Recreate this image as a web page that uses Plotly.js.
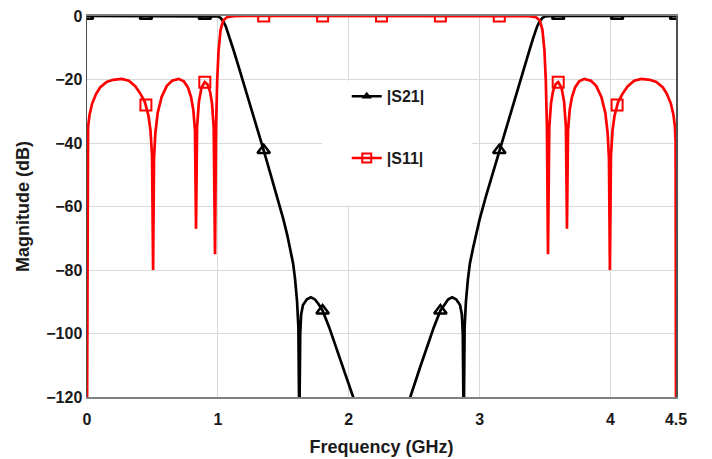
<!DOCTYPE html>
<html><head><meta charset="utf-8">
<script src="https://cdn.plot.ly/plotly-3.0.1.min.js"></script>
<style>html,body{margin:0;padding:0;background:#fff}</style>
</head><body><div id="chart" style="width:712px;height:459px"></div>
<script>
// |S11| curve (GHz, dB)
const s11Freq = [0,0.003,0.008,0.02,0.04,0.07,0.1,0.15,0.2,0.265,0.32,0.37,0.41,0.443,0.47,0.485,0.497,0.505,0.512,0.522,0.54,0.57,0.61,0.65,0.7,0.74,0.77,0.795,0.812,0.825,0.833,0.841,0.855,0.875,0.9,0.92,0.94,0.955,0.968,0.978,0.986,0.995,1.005,1.02,1.04,1.07,1.12,1.2,1.6,2.25,
  2.9,3.3,3.38,3.43,3.46,3.48,3.495,3.505,3.514,3.522,3.532,3.545,3.56,3.58,3.6,3.625,3.645,3.659,3.667,3.675,3.688,3.705,3.73,3.76,3.8,3.85,3.89,3.93,3.96,3.978,3.988,3.995,4.003,4.015,4.03,4.057,4.09,4.13,4.18,4.235,4.3,4.35,4.4,4.43,4.46,4.48,4.492,4.497,4.5];
const s11Mag = [-130,-40,-35,-31,-27.5,-24.5,-22.5,-20.8,-20.1,-19.8,-20.4,-22.2,-24.6,-27.2,-31.5,-36,-44,-80,-45,-37,-30.5,-25.5,-22,-20.4,-19.8,-20.6,-22.4,-25.5,-29.5,-36,-67,-35,-27,-22.5,-20.8,-21.5,-23.8,-27.5,-35,-75,-35,-20,-11,-4.5,-1.4,-0.4,-0.05,0,0,0,
  0,0,-0.05,-0.4,-1.4,-4.5,-11,-20,-35,-75,-35,-27.5,-23.8,-21.5,-20.8,-22.5,-27,-35,-67,-36,-29.5,-25.5,-22.4,-20.6,-19.8,-20.4,-22,-25.5,-30.5,-37,-45,-80,-44,-36,-31.5,-27.2,-24.6,-22.2,-20.4,-19.8,-20.1,-20.8,-22.5,-24.5,-27.5,-31,-35,-40,-130];

// |S21| curve (GHz, dB)
const s21Freq = [0,0.95,1.0,1.02,1.04,1.06,1.09,1.12,1.16,1.2,1.25,1.3,1.35,1.4,1.45,1.5,1.53,1.55,1.575,1.59,1.605,1.615,1.622,1.629,1.636,1.65,1.68,1.71,1.74,1.77,1.8,1.85,1.9,1.95,2.0,2.03,2.1,2.25,
  2.4,2.47,2.5,2.55,2.6,2.65,2.7,2.73,2.76,2.79,2.82,2.85,2.864,2.871,2.878,2.885,2.895,2.91,2.925,2.95,2.97,3.0,3.05,3.1,3.15,3.2,3.25,3.3,3.34,3.38,3.41,3.44,3.46,3.48,3.5,3.55,4.5];
const s21Mag = [0,0,-0.1,-0.6,-1.6,-3.2,-6.8,-10.8,-16.2,-21.6,-28.5,-35.5,-42.3,-49.5,-56.5,-64,-69,-73,-78,-83,-90,-98,-130,-100,-94,-91,-89.2,-88.6,-89.2,-90.8,-92.8,-98,-104,-110,-116,-120,-128,-135,
  -128,-120,-116,-110,-104,-98,-92.8,-90.8,-89.2,-88.6,-89.2,-91,-94,-100,-130,-98,-90,-83,-78,-73,-69,-64,-56.5,-49.5,-42.3,-35.5,-28.5,-21.6,-16.2,-10.8,-6.8,-3.2,-1.6,-0.6,-0.1,0,0];

// marker positions
const markerFreq = [0,0.45,0.9,1.35,1.8,2.25,2.7,3.15,3.6,4.05,4.5];
const s21MarkerMag = [0,0,0,-42.3,-92.8,-135,-92.8,-42.3,0,0,0];
const s11MarkerMag = [-130,-28,-20.9,0,0,0,0,0,-20.9,-28,-130];

const xTicks = [0,1,2,3,4,4.5];
const xTickText = ['0','1','2','3','4','4.5'];
const yTicks = [0,-20,-40,-60,-80,-100,-120];

const FONT = '"Liberation Sans", Arial, Helvetica, sans-serif';
const RED = '#ff0000';

const data = [
  {x:[null], y:[null], mode:'lines+markers', name:'|S21|', legendgroup:'a',
   line:{color:'#000', width:2.5}, marker:{symbol:'triangle-up', size:9, color:'#000'}},
  {x:[null], y:[null], mode:'lines+markers', name:'|S11|', legendgroup:'b',
   line:{color:RED, width:2.5}, marker:{symbol:'square-open', size:9, color:RED, line:{width:2, color:RED}}},
  {x:s21Freq, y:s21Mag, mode:'lines', showlegend:false, line:{color:'#000', width:2.7}},
  {x:markerFreq, y:s21MarkerMag, mode:'markers', showlegend:false,
   marker:{symbol:'triangle-up-open', size:11, color:'#000', line:{width:2.5, color:'#000'}}},
  {x:s11Freq, y:s11Mag, mode:'lines', showlegend:false, line:{color:RED, width:2.7}},
  {x:markerFreq, y:s11MarkerMag, mode:'markers', showlegend:false,
   marker:{symbol:'square-open', size:11, color:RED, line:{width:2, color:RED}}}
];

const layout = {
  width:712, height:459,
  margin:{l:87, r:36, t:16, b:62},
  paper_bgcolor:'#fff', plot_bgcolor:'#fff',
  font:{family:FONT, color:'#1a1a1a'},
  showlegend:true,
  legend:{x:0.441, y:0.834, xanchor:'left', yanchor:'top', bgcolor:'rgba(0,0,0,0)',
    traceorder:'grouped', tracegroupgap:38,
    font:{family:FONT, size:16, weight:'bold', color:'#1a1a1a'}},
  xaxis:{range:[0,4.5], tickvals:xTicks, ticktext:xTickText, showgrid:true, gridcolor:'#d9d9d9', gridwidth:1,
    zeroline:false, showline:true, linecolor:'#808080', linewidth:2, mirror:true, ticks:'',
    tickfont:{family:FONT, size:16, weight:'bold', color:'#1a1a1a'}, ticklabelstandoff:7,
    title:{text:'Frequency (GHz)', font:{family:FONT, size:18, weight:'bold', color:'#1a1a1a'}, standoff:13}},
  yaxis:{range:[-120,0], tickvals:yTicks, showgrid:true, gridcolor:'#d9d9d9', gridwidth:1,
    zeroline:false, showline:true, linecolor:'#505050', linewidth:1.5, mirror:true, ticks:'',
    tickfont:{family:FONT, size:16, weight:'bold', color:'#1a1a1a'},
    title:{text:'Magnitude (dB)', font:{family:FONT, size:18, weight:'bold', color:'#1a1a1a'}, standoff:12}},
  shapes:[{type:'rect', xref:'x', yref:'y', x0:1.795, x1:2.94, y0:-20.4, y1:-59.6,
    fillcolor:'#fff', line:{width:0}, layer:'between'}]
};

Plotly.newPlot('chart', data, layout, {displayModeBar:false, staticPlot:true});
</script>
</body></html>
